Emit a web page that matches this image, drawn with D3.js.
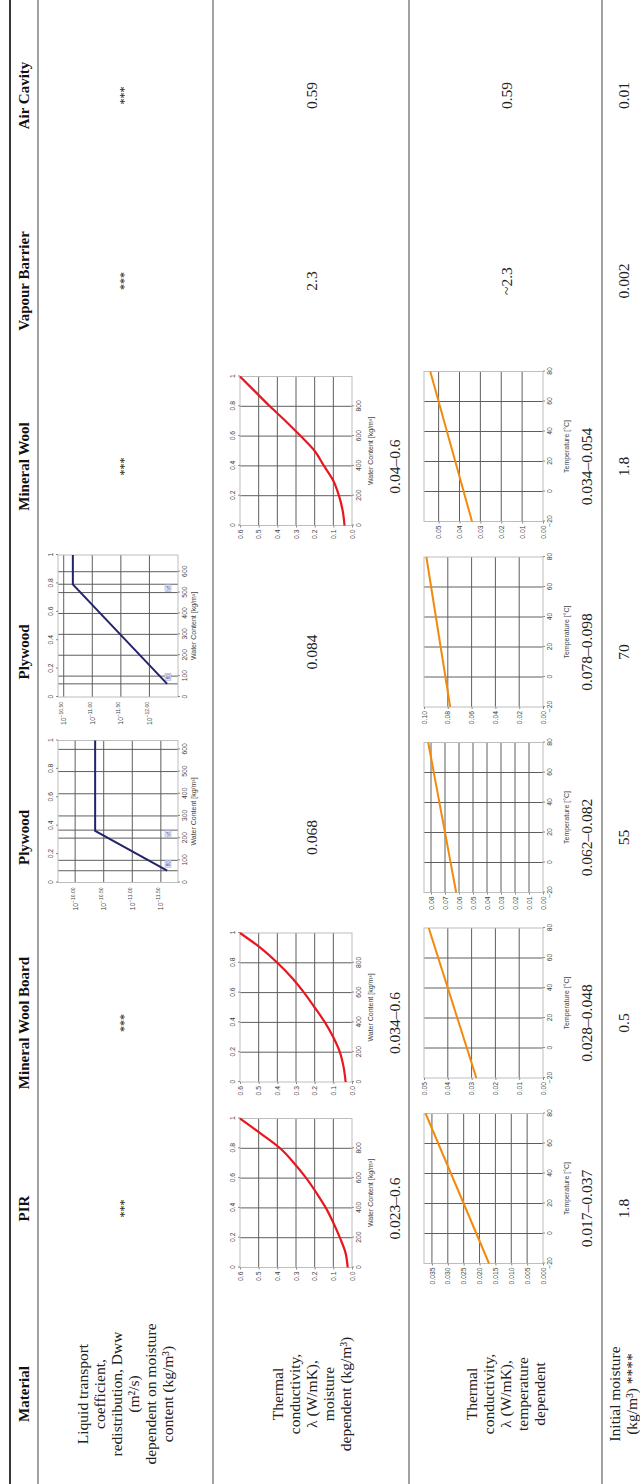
<!DOCTYPE html>
<html>
<head>
<meta charset="utf-8">
<script src="https://cdn.jsdelivr.net/npm/d3@7"></script>
<style>
  html, body { margin: 0; padding: 0; background: #fff; }
  svg { display: block; }
  .hdr { font-family: "Liberation Serif", "Times New Roman", serif; font-weight: bold; font-size: 15px; fill: #111; }
  .cell { font-family: "Liberation Serif", "Times New Roman", serif; font-size: 15.5px; fill: #222; }
  .stars { font-family: "Liberation Serif", "Times New Roman", serif; font-size: 12px; fill: #222; }
  .ax text { font-family: "Liberation Sans", Arial, sans-serif; font-size: 6.8px; fill: #444; }
  .ttl { font-family: "Liberation Sans", Arial, sans-serif; font-size: 7px; fill: #444; }
</style>
</head>
<body>
<script>
// ---- table content ----
const materials = ["Material", "PIR", "Mineral Wool Board", "Plywood", "Plywood", "Mineral Wool", "Vapour Barrier", "Air Cavity"];
const propertyLabels = [
  ["Liquid transport", "coefficient,", "redistribution, Dww", "(m²/s)", "dependent on moisture", "content (kg/m³)"],
  ["Thermal", "conductivity,", "λ (W/mK),", "moisture", "dependent (kg/m³)"],
  ["Thermal", "conductivity,", "λ (W/mK),", "temperature", "dependent"],
  ["Initial moisture", "(kg/m³) ****"]
];
const liquidText = ["***", "***", null, null, "***", "***", "***"];            // PIR .. Air Cavity
const lambdaMoistureText = [null, null, "0.068", "0.084", null, "2.3", "0.59"];
const lambdaTempText = [null, null, null, null, null, "~2.3", "0.59"];
const initialMoisture = ["1.8", "0.5", "55", "70", "1.8", "0.002", "0.01"];

// ---- liquid transport coefficient, plywood (log10 Dww vs water content) ----
const ply55Water = [53, 233, 640];
const ply55LogDww = [-11.61, -10.35, -10.35];
const ply55Markers = [53, 236];           // w80, wf
const ply55LogTicks = [-10.0, -10.5, -11.0, -11.5];
const ply70Water = [63, 539, 680];
const ply70LogDww = [-12.31, -10.66, -10.66];
const ply70Markers = [63, 540];
const ply70LogTicks = [-10.5, -11.0, -11.5, -12.0];
const plyWaterTicks = [0, 100, 200, 300, 400, 500, 600];
const saturationTicks = [0, 0.2, 0.4, 0.6, 0.8, 1];

// ---- thermal conductivity vs moisture content ----
const waterContent = [0, 100, 200, 300, 400, 500, 600, 700, 800, 900, 1000];
const lambdaPIR = [0.023, 0.035, 0.065, 0.1, 0.14, 0.19, 0.245, 0.31, 0.385, 0.49, 0.6];
const lambdaMWB = [0.034, 0.045, 0.065, 0.1, 0.145, 0.2, 0.257, 0.322, 0.4, 0.49, 0.6];
const lambdaMW = [0.04, 0.05, 0.07, 0.1, 0.15, 0.2, 0.275, 0.355, 0.44, 0.52, 0.6];
const moistureRanges = ["0.023–0.6", "0.034–0.6", "0.04–0.6"];
const waterTicks = [0, 200, 400, 600, 800];
const lambdaMoistTicks = [0, 0.1, 0.2, 0.3, 0.4, 0.5, 0.6];

// ---- thermal conductivity vs temperature ----
const temperature = [-20, 80];
const lamTempPIR = [0.017, 0.037];
const lamTempMWB = [0.028, 0.048];
const lamTempPly55 = [0.062, 0.082];
const lamTempPly70 = [0.078, 0.098];
const lamTempMW = [0.034, 0.054];
const tempRanges = ["0.017–0.037", "0.028–0.048", "0.062–0.082", "0.078–0.098", "0.034–0.054"];
const tempTicks = [-20, 0, 20, 40, 60, 80];
const ticksPIR = [0, 0.005, 0.01, 0.015, 0.02, 0.025, 0.03, 0.035];
const ticksMWB = [0, 0.01, 0.02, 0.03, 0.04, 0.05];
const ticksPly55 = [0, 0.01, 0.02, 0.03, 0.04, 0.05, 0.06, 0.07, 0.08];
const ticksPly70 = [0, 0.02, 0.04, 0.06, 0.08, 0.1];
const ticksMW = [0, 0.01, 0.02, 0.03, 0.04, 0.05];

// ---- page ----
const W = 640, H = 1484;
const svg = d3.select("body").append("svg").attr("width", W).attr("height", H);
svg.append("rect").attr("width", W).attr("height", H).attr("fill", "#fff");
// the table is laid out landscape (H wide, W tall) and turned a quarter counter-clockwise
const g = svg.append("g").attr("transform", `translate(0,${H}) rotate(-90)`);

const col = d3.scaleLinear().domain([0, materials.length - 1]).range([90, 90 + 185.5 * 7]);

// horizontal rules of the table
[[10, 1.8, "#222"], [38, 1.1, "#555"], [213, 1.1, "#555"], [409, 1.1, "#555"], [602, 1.1, "#555"]].forEach(([v, w, c]) => {
  g.append("line").attr("x1", 0).attr("x2", H).attr("y1", v).attr("y2", v)
    .attr("stroke", c).attr("stroke-width", w);
});

function textLines(lines, cx, cy, lh, cls) {
  const n = lines.length;
  lines.forEach((t, k) => {
    g.append("text").attr("class", cls)
      .attr("x", cx).attr("y", cy + (k - (n - 1) / 2) * lh)
      .attr("text-anchor", "middle").attr("dominant-baseline", "central")
      .text(t);
  });
}

// header row
materials.forEach((m, i) => textLines([m], col(i), 24, 17, "hdr"));

// first column: property names
textLines(propertyLabels[0], col(0), 125, 17, "cell");
textLines(propertyLabels[1], col(0), 311, 17, "cell");
textLines(propertyLabels[2], col(0), 505.5, 17, "cell");
textLines(propertyLabels[3], col(0), 622.5, 17, "cell");

// plain-value cells
liquidText.forEach((t, k) => { if (t) textLines([t], col(k + 1), 124, 17, "stars"); });
lambdaMoistureText.forEach((t, k) => { if (t) textLines([t], col(k + 1), 311, 17, "cell"); });
lambdaTempText.forEach((t, k) => { if (t) textLines([t], col(k + 1), 506, 17, "cell"); });
initialMoisture.forEach((t, k) => textLines([t], col(k + 1), 623, 17, "cell"));

// ---- small chart helpers ----
const GRID = "#5e5e5e", FRAME = "#bdbdbd";

function styleAxis(a) {
  a.attr("class", "ax");
  a.select(".domain").remove();
  a.selectAll(".tick line").attr("stroke", "#888");
}

function grid(c, x, y, xs, ys) {
  c.selectAll(null).data(xs).join("line")
    .attr("x1", d => x(d)).attr("x2", d => x(d))
    .attr("y1", y.range()[0]).attr("y2", y.range()[1])
    .attr("stroke", GRID).attr("stroke-width", 1);
  c.selectAll(null).data(ys).join("line")
    .attr("y1", d => y(d)).attr("y2", d => y(d))
    .attr("x1", x.range()[0]).attr("x2", x.range()[1])
    .attr("stroke", GRID).attr("stroke-width", 1);
}

function frame(c, x, y) {
  const [x0, x1] = x.range(), [y0, y1] = y.range();
  c.append("rect").attr("x", x0).attr("y", Math.min(y0, y1))
    .attr("width", x1 - x0).attr("height", Math.abs(y0 - y1))
    .attr("fill", "none").attr("stroke", FRAME).attr("stroke-width", 1);
}

function title(c, text, x, v) {
  c.append("text").attr("class", "ttl")
    .attr("x", (x.range()[0] + x.range()[1]) / 2).attr("y", v)
    .attr("text-anchor", "middle").attr("dominant-baseline", "central")
    .text(text);
}

// thermal conductivity vs water content
function moistureChart(i, lam, rangeText) {
  const cx = col(i);
  const c = g.append("g");
  const x = d3.scaleLinear().domain([0, 1000]).range([cx - 59, cx + 90]);
  const y = d3.scaleLinear().domain([0, 0.6]).range([352, 240]);
  const sat = d3.scaleLinear().domain([0, 1]).range(x.range());
  grid(c, x, y, waterTicks.filter(d => d > 0), lambdaMoistTicks.filter(d => d > 0 && d < 0.6));
  frame(c, x, y);
  c.append("g").attr("transform", `translate(${x(0)},0)`)
    .call(d3.axisLeft(y).tickValues(lambdaMoistTicks).tickFormat(d3.format(".1f")).tickSize(2).tickPadding(2))
    .call(styleAxis);
  c.append("g").attr("transform", `translate(0,${y(0)})`)
    .call(d3.axisBottom(x).tickValues(waterTicks).tickFormat(d3.format("d")).tickSize(2).tickPadding(2))
    .call(styleAxis);
  c.append("g").attr("transform", `translate(0,${y(0.6)})`)
    .call(d3.axisTop(sat).tickValues(saturationTicks).tickFormat(d3.format("~g")).tickSize(2).tickPadding(3))
    .call(styleAxis);
  c.append("path")
    .datum(waterContent.map((w, k) => [w, lam[k]]))
    .attr("d", d3.line().x(d => x(d[0])).y(d => y(d[1])).curve(d3.curveMonotoneX))
    .attr("fill", "none").attr("stroke", "#e8161e").attr("stroke-width", 2.2);
  title(c, "Water Content [kg/m³]", x, 370);
  textLines([rangeText], cx, 394, 17, "cell");
}

// thermal conductivity vs temperature
function tempChart(i, lam, ymax, ticks, fmt, rangeText) {
  const cx = col(i);
  const c = g.append("g");
  const x = d3.scaleLinear().domain([-20, 80]).range([cx - 55, cx + 95]);
  const y = d3.scaleLinear().domain([0, ymax]).range([543, 424]);
  grid(c, x, y, tempTicks.filter(d => d > -20 && d < 80), ticks.filter(d => d > 0 && d < ymax));
  frame(c, x, y);
  c.append("g").attr("transform", `translate(${x(-20)},0)`)
    .call(d3.axisLeft(y).tickValues(ticks).tickFormat(d3.format(fmt)).tickSize(2).tickPadding(2))
    .call(styleAxis);
  c.append("g").attr("transform", `translate(0,${y(0)})`)
    .call(d3.axisBottom(x).tickValues(tempTicks).tickFormat(d3.format("d")).tickSize(2).tickPadding(2))
    .call(styleAxis);
  c.append("path")
    .datum(temperature.map((t, k) => [t, lam[k]]))
    .attr("d", d3.line().x(d => x(d[0])).y(d => y(d[1])))
    .attr("fill", "none").attr("stroke", "#f28a0c").attr("stroke-width", 2);
  title(c, "Temperature [°C]", x, 566);
  textLines([rangeText], cx, 586, 17, "cell");
}

// liquid transport coefficient (log scale) vs water content
function liquidChart(i, water, logD, wmax, logTop, logBottom, logTicks, markers) {
  const cx = col(i);
  const c = g.append("g");
  const x = d3.scaleLinear().domain([0, wmax]).range([cx - 45, cx + 97]);
  const y = d3.scaleLinear().domain([logBottom, logTop]).range([178, 58]);
  const sat = d3.scaleLinear().domain([0, 1]).range(x.range());
  grid(c, x, y, plyWaterTicks.filter(d => d > 0).concat(markers), logTicks);
  frame(c, x, y);
  c.append("g").attr("transform", `translate(0,${y(logBottom)})`)
    .call(d3.axisBottom(x).tickValues(plyWaterTicks).tickFormat(d3.format("d")).tickSize(2).tickPadding(2))
    .call(styleAxis);
  c.append("g").attr("transform", `translate(0,${y(logTop)})`)
    .call(d3.axisTop(sat).tickValues(saturationTicks).tickFormat(d3.format("~g")).tickSize(2).tickPadding(3))
    .call(styleAxis);
  // power-of-ten labels
  const lab = c.append("g").attr("class", "ax");
  logTicks.forEach(e => {
    const t = lab.append("text").attr("x", x(0) - 5).attr("y", y(e) + 2.5).attr("text-anchor", "end");
    t.append("tspan").text("10");
    t.append("tspan").attr("dy", -3).style("font-size", "5px").text(d3.format(".2f")(e));
  });
  // w80 / wf markers
  const mk = [["80", markers[0], 7], ["wf", markers[1], -4]];
  mk.forEach(([s, w, off]) => {
    const px = x(w) + off, py = y(logBottom) - 10;
    c.append("rect").attr("x", px - 3.5).attr("y", py - 3).attr("width", 7).attr("height", 6)
      .attr("fill", "#dfe3f5").attr("stroke", "#9aa2d6").attr("stroke-width", 0.5);
    c.append("text").attr("x", px).attr("y", py).attr("text-anchor", "middle").attr("dominant-baseline", "central")
      .style("font-family", "Liberation Sans, Arial, sans-serif").style("font-size", "4.5px").attr("fill", "#4a4f9a").text(s);
  });
  c.append("path")
    .datum(water.map((w, k) => [w, logD[k]]))
    .attr("d", d3.line().x(d => x(d[0])).y(d => y(d[1])))
    .attr("fill", "none").attr("stroke", "#22236b").attr("stroke-width", 2);
  title(c, "Water Content [kg/m³]", x, 193);
}

liquidChart(3, ply55Water, ply55LogDww, 640, -9.7, -11.8, ply55LogTicks, ply55Markers);
liquidChart(4, ply70Water, ply70LogDww, 680, -10.4, -12.5, ply70LogTicks, ply70Markers);

moistureChart(1, lambdaPIR, moistureRanges[0]);
moistureChart(2, lambdaMWB, moistureRanges[1]);
moistureChart(5, lambdaMW, moistureRanges[2]);

tempChart(1, lamTempPIR, 0.0375, ticksPIR, ".3f", tempRanges[0]);
tempChart(2, lamTempMWB, 0.05, ticksMWB, ".2f", tempRanges[1]);
tempChart(3, lamTempPly55, 0.085, ticksPly55, ".2f", tempRanges[2]);
tempChart(4, lamTempPly70, 0.1, ticksPly70, ".2f", tempRanges[3]);
tempChart(5, lamTempMW, 0.057, ticksMW, ".2f", tempRanges[4]);
</script>
</body>
</html>
